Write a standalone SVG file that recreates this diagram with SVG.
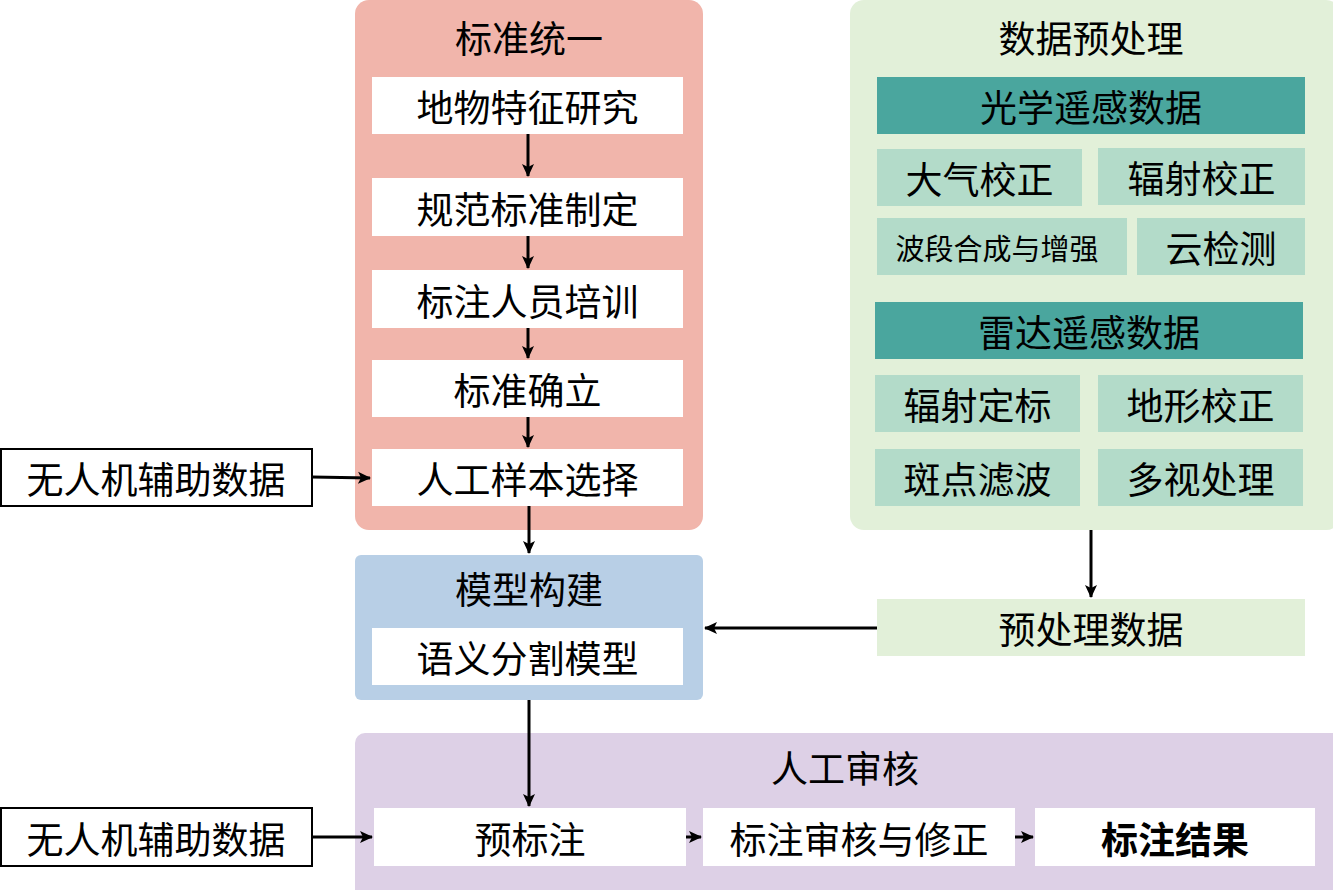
<svg xmlns="http://www.w3.org/2000/svg" width="1333" height="890" viewBox="0 0 1333 890">
<defs>
<style>
text{font-family:"Noto Sans CJK SC","Noto Sans",sans-serif;fill:#000;text-anchor:middle;dominant-baseline:central;font-size:37px}
.w{fill:#fff}
.lt{fill:#B3DBC9}
.th{fill:#4AA69E}
.ln{stroke:#000;stroke-width:3;fill:none}
</style>
<marker id="ah" markerUnits="userSpaceOnUse" markerWidth="14" markerHeight="14" refX="12" refY="7" orient="auto">
<path d="M0,1 L13,7 L0,13 L3,7 z" fill="#000"/>
</marker>
</defs>
<rect width="1333" height="890" fill="#fff"/>

<g id="standard">
<rect x="355" y="0" width="348" height="530" rx="14" fill="#F1B5AB"/>
<text x="529" y="37">标准统一</text>
</g>
<g id="n1"><rect class="w" x="372" y="77" width="311" height="57"/><text x="527.5" y="106">地物特征研究</text></g>
<g id="n2"><rect class="w" x="372" y="178" width="311" height="58"/><text x="527.5" y="208">规范标准制定</text></g>
<g id="n3"><rect class="w" x="372" y="270" width="311" height="58"/><text x="527.5" y="300">标注人员培训</text></g>
<g id="n4"><rect class="w" x="372" y="360" width="311" height="57"/><text x="527.5" y="389">标准确立</text></g>
<g id="n5"><rect class="w" x="372" y="449" width="311" height="57"/><text x="527.5" y="478">人工样本选择</text></g>

<g id="preprocess">
<rect x="850" y="0" width="490" height="530" rx="14" fill="#E2F0D9"/>
<text x="1091" y="37">数据预处理</text>
</g>
<g id="optical"><rect class="th" x="877" y="77" width="428" height="57"/><text x="1091" y="106">光学遥感数据</text></g>
<g id="p1"><rect class="lt" x="877" y="149" width="205" height="57"/><text x="979.5" y="178">大气校正</text></g>
<g id="p2"><rect class="lt" x="1098" y="148" width="207" height="57"/><text x="1201.5" y="177">辐射校正</text></g>
<g id="p3"><rect class="lt" x="877" y="218" width="250" height="57"/><text x="997" y="247" style="font-size:29px">波段合成与增强</text></g>
<g id="p4"><rect class="lt" x="1137" y="218" width="168" height="57"/><text x="1221" y="247">云检测</text></g>
<g id="radar"><rect class="th" x="875" y="302" width="428" height="57"/><text x="1089" y="331">雷达遥感数据</text></g>
<g id="r1"><rect class="lt" x="875" y="375" width="205" height="57"/><text x="977.5" y="404">辐射定标</text></g>
<g id="r2"><rect class="lt" x="1098" y="375" width="205" height="57"/><text x="1200.5" y="404">地形校正</text></g>
<g id="r3"><rect class="lt" x="875" y="449" width="205" height="57"/><text x="977.5" y="478">斑点滤波</text></g>
<g id="r4"><rect class="lt" x="1098" y="449" width="205" height="57"/><text x="1200.5" y="478">多视处理</text></g>

<g id="predata"><rect x="877" y="599" width="428" height="57" fill="#E2F0D9"/><text x="1091" y="628">预处理数据</text></g>

<g id="model">
<rect x="355" y="555" width="348" height="145" rx="6" fill="#B8CFE6"/>
<text x="529" y="588">模型构建</text>
<rect class="w" x="372" y="628" width="311" height="57"/>
<text x="527.5" y="657">语义分割模型</text>
</g>

<g id="review">
<rect x="355" y="733" width="990" height="170" rx="10" fill="#DDD0E6"/>
<text x="845" y="767">人工审核</text>
</g>
<g id="pre"><rect class="w" x="374" y="808" width="312" height="58"/><text x="530" y="837.5">预标注</text></g>
<g id="check"><rect class="w" x="703" y="808" width="312" height="58"/><text x="859" y="837.5">标注审核与修正</text></g>
<g id="result"><rect class="w" x="1035" y="808" width="280" height="58"/><text x="1175" y="837.5" style="font-weight:bold">标注结果</text></g>

<g id="uav1"><rect x="1" y="449" width="311" height="57" fill="#fff" stroke="#000" stroke-width="2"/><text x="156" y="478">无人机辅助数据</text></g>
<g id="uav2"><rect x="1" y="808" width="311" height="58" fill="#fff" stroke="#000" stroke-width="2"/><text x="156" y="837.5">无人机辅助数据</text></g>

<g id="connectors">
<line class="ln" x1="528" y1="134" x2="528" y2="176" marker-end="url(#ah)"/>
<line class="ln" x1="528" y1="236" x2="528" y2="268" marker-end="url(#ah)"/>
<line class="ln" x1="528" y1="328" x2="528" y2="358" marker-end="url(#ah)"/>
<line class="ln" x1="528" y1="417" x2="528" y2="447" marker-end="url(#ah)"/>
<line class="ln" x1="529" y1="506" x2="529" y2="553" marker-end="url(#ah)"/>
<line class="ln" x1="529" y1="700" x2="529" y2="806" marker-end="url(#ah)"/>
<line class="ln" x1="1091" y1="530" x2="1091" y2="597" marker-end="url(#ah)"/>
<line class="ln" x1="877" y1="628" x2="705" y2="628" marker-end="url(#ah)"/>
<line class="ln" x1="312" y1="477" x2="370" y2="478" marker-end="url(#ah)"/>
<line class="ln" x1="312" y1="837" x2="372" y2="837" marker-end="url(#ah)"/>
<line class="ln" x1="686" y1="837" x2="701" y2="837" marker-end="url(#ah)"/>
<line class="ln" x1="1015" y1="837" x2="1033" y2="837" marker-end="url(#ah)"/>
</g>
</svg>
